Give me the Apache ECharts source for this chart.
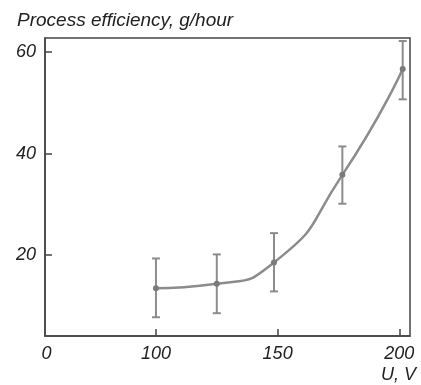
<!DOCTYPE html>
<html>
<head>
<meta charset="utf-8">
<script src="https://cdn.jsdelivr.net/npm/echarts@6/dist/echarts.min.js"></script>
<style>
  html, body { margin: 0; padding: 0; background: #fff; }
  #chart { width: 421px; height: 385px; }
</style>
</head>
<body>
<div id="chart"></div>
<script>
  // voltage, V
  const voltage = [100, 125, 148.5, 176.6, 201.4];
  // process efficiency, g/hour
  const efficiency = [13.4, 14.3, 18.5, 35.8, 56.7];
  const errLow = [7.7, 8.5, 12.8, 30.1, 50.7];
  const errHigh = [19.3, 20.1, 24.3, 41.4, 62.2];
  // x axis is broken: "0" sits at the left edge
  const xTickValues = [55, 100, 150, 200];
  const xTickLabels = ["0", "100", "150", "200"];
  const yTickValues = [20, 40, 60];

  const axisColor = "#444";
  const textColor = "#222";
  const font = "Liberation Sans, Arial, sans-serif";

  const chart = echarts.init(document.getElementById("chart"));
  chart.setOption({
    animation: false,
    grid: {
      left: 45,
      right: 11,
      top: 38,
      bottom: 49,
      show: true,
      borderColor: axisColor,
      borderWidth: 1.5,
    },
    title: {
      text: "Process efficiency, g/hour",
      left: 12,
      top: 6,
      textStyle: {
        fontFamily: font,
        fontStyle: "italic",
        fontWeight: "normal",
        fontSize: 19,
        color: textColor,
      },
    },
    graphic: [
      {
        type: "text",
        right: 5,
        top: 366,
        style: {
          text: "U, V",
          font: "italic 18px " + font,
          fill: textColor,
        },
      },
    ],
    xAxis: {
      type: "value",
      min: 54.4,
      max: 204.4,
      splitLine: { show: false },
      axisLine: { lineStyle: { color: axisColor, width: 1.5 } },
      axisTick: {
        inside: true,
        length: 7,
        customValues: xTickValues.slice(1),
        lineStyle: { color: axisColor, width: 1.5 },
      },
      axisLabel: {
        customValues: xTickValues,
        formatter: (v) => xTickLabels[xTickValues.indexOf(v)],
        margin: 9,
        fontFamily: font,
        fontStyle: "italic",
        fontSize: 18,
        color: textColor,
      },
    },
    yAxis: {
      type: "value",
      min: 4,
      max: 62.8,
      splitLine: { show: false },
      axisLine: { show: true, lineStyle: { color: axisColor, width: 1.5 } },
      axisTick: {
        inside: true,
        length: 7,
        customValues: yTickValues,
        lineStyle: { color: axisColor, width: 1.5 },
      },
      axisLabel: {
        customValues: yTickValues,
        margin: 9,
        fontFamily: font,
        fontStyle: "italic",
        fontSize: 18,
        color: textColor,
      },
    },
    series: [
      {
        type: "line",
        data: voltage.map((x, i) => [x, efficiency[i]]),
        smooth: 0.6,
        symbol: "circle",
        symbolSize: 6,
        itemStyle: { color: "#7a7a7a" },
        lineStyle: { color: "#8c8c8c", width: 2.5 },
        z: 3,
      },
      {
        type: "custom",
        data: voltage.map((x, i) => [x, errLow[i], errHigh[i]]),
        renderItem: (params, api) => {
          const lo = api.coord([api.value(0), api.value(1)]);
          const hi = api.coord([api.value(0), api.value(2)]);
          const w = 4;
          const style = { stroke: "#8c8c8c", lineWidth: 2 };
          return {
            type: "group",
            children: [
              { type: "line", shape: { x1: lo[0], y1: lo[1], x2: hi[0], y2: hi[1] }, style },
              { type: "line", shape: { x1: lo[0] - w, y1: lo[1], x2: lo[0] + w, y2: lo[1] }, style },
              { type: "line", shape: { x1: hi[0] - w, y1: hi[1], x2: hi[0] + w, y2: hi[1] }, style },
            ],
          };
        },
        z: 2,
      },
    ],
  });
</script>
</body>
</html>
